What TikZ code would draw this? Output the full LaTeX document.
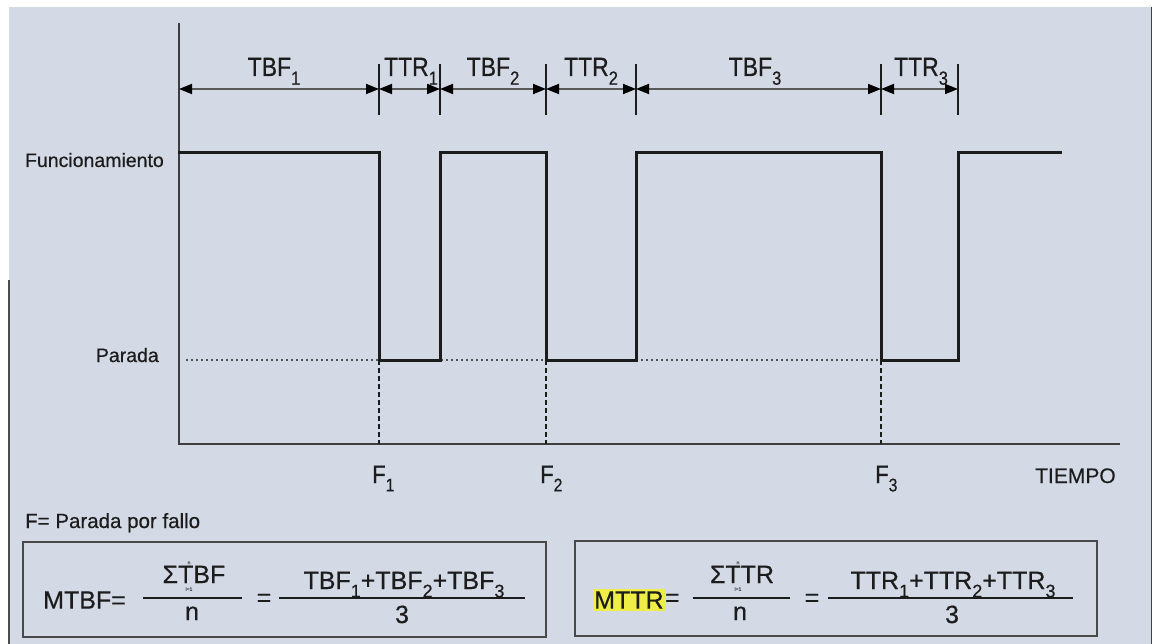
\documentclass[tikz,border=0pt]{standalone}
\usepackage{fontspec}
\setmainfont[FakeBold=0.5]{Liberation Sans}
\usetikzlibrary{arrows.meta}
\definecolor{bg}{RGB}{211,217,229}
\definecolor{ink}{RGB}{28,28,28}
\definecolor{hl}{RGB}{238,238,70}
\newcommand\tallbox[1]{\scalebox{1}[1.15]{#1}}
\newcommand\lowsub[1]{\raisebox{-0.33em}{\scalebox{0.72}{#1}}}
\begin{document}
\begin{tikzpicture}[x=1pt,y=-1pt,
  sig/.style={line width=3pt, draw=ink, line join=miter, line cap=rect},
  axisline/.style={line width=2pt, draw=ink!85},
  dimline/.style={line width=1.8pt, draw=gray!70!black,
     {Triangle[length=13pt,width=10pt,color=black]}-{Triangle[length=13pt,width=10pt,color=black]}},
  tickline/.style={line width=1.3pt, draw=ink},
  lab/.style={font=\fontsize{23}{26}\selectfont, text=ink, inner sep=0pt, anchor=base},
  smalllab/.style={font=\fontsize{19.5}{22}\selectfont, text=ink, inner sep=0pt},
  flab/.style={font=\fontsize{22}{25}\selectfont, text=ink, inner sep=0pt, anchor=base west},
  frm/.style={font=\fontsize{25}{28}\selectfont, text=ink, inner sep=0pt},
  tinylab/.style={font=\fontsize{5}{6}\selectfont, text=ink!80, inner sep=0pt},
  boxline/.style={draw=ink!80, line width=1.8pt},
  barline/.style={draw=ink, line width=1.8pt},
  vdash/.style={draw=ink, line width=1.6pt, dash pattern=on 5pt off 3pt},
  vdots/.style={draw=gray!65!black, line width=1.6pt, dash pattern=on 1.6pt off 3.4pt}
  ]
\useasboundingbox (0,0) rectangle (1155,644);
\fill[white] (0,0) rectangle (1155,644);
\fill[bg] (9,7) rectangle (1151,644);
\draw[gray!60!black, line width=1.2pt] (9,280) -- (9,644);
\draw[gray!50!black, line width=0.8pt] (1151,7) -- (1151,644);

% levels
\draw[vdots] (186,360) -- (881,360);

% axes
\coordinate (ytop) at (179,23);
\coordinate (orig) at (179,444);
\coordinate (xend) at (1120,444);
\draw[axisline] (ytop) -- (orig) -- (xend);

% failure instants
\coordinate (f1top) at (379,360); \coordinate (f1bot) at (379,444);
\coordinate (f2top) at (546,360); \coordinate (f2bot) at (546,444);
\coordinate (f3top) at (881,360); \coordinate (f3bot) at (881,444);
\draw[vdash] (f1top) -- (f1bot);
\draw[vdash] (f2top) -- (f2bot);
\draw[vdash] (f3top) -- (f3bot);

% signal
\draw[sig] (179,153) -- (379,153) -- (379,360) -- (440,360) -- (440,153)
  -- (546,153) -- (546,360) -- (636,360) -- (636,153) -- (881,153)
  -- (881,360) -- (958,360) -- (958,153) -- (1060,153);

% dimension ticks
\foreach \x in {379,440,546,636,881,958}{\draw[tickline] (\x,64) -- (\x,115);}
\coordinate (d0) at (179,89);
\coordinate (d1) at (379,89);
\coordinate (d2) at (440,89);
\coordinate (d3) at (546,89);
\coordinate (d4) at (636,89);
\coordinate (d5) at (881,89);
\coordinate (d6) at (958,89);
\draw[dimline] (d0) -- (d1);
\draw[dimline] (d1) -- (d2);
\draw[dimline] (d2) -- (d3);
\draw[dimline] (d3) -- (d4);
\draw[dimline] (d4) -- (d5);
\draw[dimline] (d5) -- (d6);

\node[lab] (tbf1) at (274,76) {\tallbox{TBF\lowsub{1}}};
\node[lab] (ttr1) at (411,76) {\tallbox{TTR\lowsub{1}}};
\node[lab] (tbf2) at (493,76) {\tallbox{TBF\lowsub{2}}};
\node[lab] (ttr2) at (591,76) {\tallbox{TTR\lowsub{2}}};
\node[lab] (tbf3) at (755,76) {\tallbox{TBF\lowsub{3}}};
\node[lab] (ttr3) at (921,76) {\tallbox{TTR\lowsub{3}}};

\node[smalllab, anchor=base east] (fun) at (164,167) {Funcionamiento};
\node[smalllab, anchor=base east] (par) at (159,362) {Parada};

\node[flab] (F1) at (372,483) {\tallbox{F\lowsub{1}}};
\node[flab] (F2) at (540,483) {\tallbox{F\lowsub{2}}};
\node[flab] (F3) at (875,483) {\tallbox{F\lowsub{3}}};
\node[font=\fontsize{21}{24}\selectfont, text=ink, inner sep=0pt, anchor=base west] (tiempo) at (1035,483) {TIEMPO};
\node[font=\fontsize{20.5}{24}\selectfont, text=ink, inner sep=0pt, anchor=base west] (nota) at (25,528) {F= Parada por fallo};

% formula boxes
\draw[boxline] (23,542) rectangle (546,637);
\draw[boxline] (575,541) rectangle (1097,636);

% MTBF
\node[frm, anchor=west] (mtbf) at (43,600) {MTBF=};
\draw[barline] (143,598) -- (242,598);
\node[frm, anchor=base] (sumtbf) at (194,583) {ΣTBF};
\node[tinylab] (sup1) at (189,563) {n};
\node[tinylab] (sub1) at (189,589) {i=1};
\node[frm, anchor=base] (n1) at (192,620) {n};
\node[frm] (eq1) at (264,600) {=};
\draw[barline] (279,598) -- (525,598);
\node[frm, anchor=base] (num1) at (404,589) {TBF\lowsub{1}+TBF\lowsub{2}+TBF\lowsub{3}};
\node[frm, anchor=base] (den1) at (402,623) {3};

% MTTR
\node[frm, anchor=west, fill=hl, inner xsep=1pt, inner ysep=2pt] (mttr) at (593,600) {MTTR};
\node[frm, anchor=west] (eq2) at (mttr.east) {=};
\draw[barline] (693,598) -- (790,598);
\node[frm, anchor=base] (sumttr) at (742,583) {ΣTTR};
\node[tinylab] (sup2) at (738,563) {n};
\node[tinylab] (sub2) at (738,589) {i=1};
\node[frm, anchor=base] (n2) at (740,620) {n};
\node[frm] (eq3) at (812,600) {=};
\draw[barline] (828,598) -- (1073,598);
\node[frm, anchor=base] (num2) at (953,589) {TTR\lowsub{1}+TTR\lowsub{2}+TTR\lowsub{3}};
\node[frm, anchor=base] (den2) at (952,623) {3};
\end{tikzpicture}
\end{document}
